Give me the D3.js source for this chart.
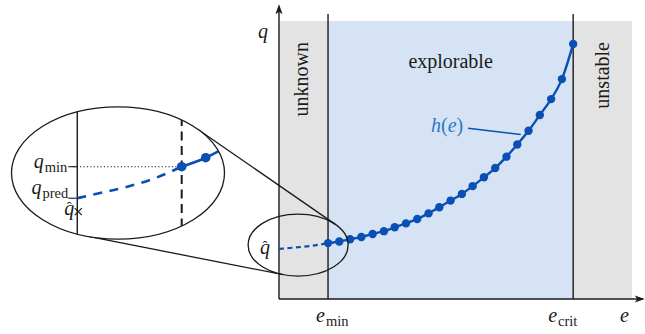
<!DOCTYPE html>
<html>
<head>
<meta charset="utf-8">
<script src="https://cdn.jsdelivr.net/npm/d3@7/dist/d3.min.js"></script>
<style>
  html, body { margin: 0; padding: 0; background: #fff; }
  svg { display: block; }
  text { font-family: "Liberation Serif", "DejaVu Serif", serif; fill: #1a1a1a; }
  .math { font-style: italic; }
</style>
</head>
<body>
<svg id="chart" width="645" height="334"></svg>
<script>
// ---- data ----
const E_MIN = 1;
const E_CRIT = 6;
const E_MAX = 7.2;      // end of the shaded band
const Q_MAX = 10;       // top of the shaded band

// sampled points of h(e) across the explorable range
const eSamples = [1.00, 1.23, 1.45, 1.68, 1.91, 2.14, 2.36, 2.59, 2.82, 3.05, 3.27, 3.50,
                  3.73, 3.95, 4.18, 4.41, 4.64, 4.86, 5.09, 5.32, 5.55, 5.77, 6.00];
const hValues  = [2.01, 2.07, 2.15, 2.23, 2.34, 2.44, 2.58, 2.72, 2.88, 3.08, 3.30, 3.54,
                  3.78, 4.06, 4.38, 4.71, 5.12, 5.56, 6.05, 6.62, 7.19, 7.91, 9.17];

// extrapolation of h below e_min (dashed)
const extrapE = [0.00, 0.22, 0.47, 0.73, 1.00];
const extrapQ = [1.80, 1.835, 1.875, 1.93, 2.01];

const qHat  = 1.71;
const qPred = extrapQ[0];
const qMin  = hValues[0];

const regionNames = ["unknown", "explorable", "unstable"];

// ---- layout ----
const svg = d3.select("#chart");
const BLUE = "#0a50b4";
const INK = "#1a1a1a";
const FS = 20;     // body font size
const SUB = 14.5;  // subscript size

const x = d3.scaleLinear().domain([0, E_MAX]).range([279, 632]);
const y = d3.scaleLinear().domain([0, Q_MAX]).range([299, 21]);

// regions
svg.append("rect")
  .attr("x", x(0)).attr("y", y(Q_MAX))
  .attr("width", x(E_MAX) - x(0)).attr("height", y(0) - y(Q_MAX))
  .attr("fill", "#e3e3e3");
svg.append("rect")
  .attr("x", x(E_MIN)).attr("y", y(Q_MAX))
  .attr("width", x(E_CRIT) - x(E_MIN)).attr("height", y(0) - y(Q_MAX))
  .attr("fill", "#d5e3f4");

// boundary lines
[E_MIN, E_CRIT].forEach(e => {
  svg.append("line")
    .attr("x1", x(e)).attr("x2", x(e))
    .attr("y1", y(0)).attr("y2", y(10.25))
    .attr("stroke", INK).attr("stroke-width", 1.4);
});

// axes with arrow heads
const xEnd = x(7.46), yEnd = y(10.6);
svg.append("line").attr("x1", x(0)).attr("x2", xEnd - 2).attr("y1", y(0)).attr("y2", y(0))
  .attr("stroke", INK).attr("stroke-width", 1.4);
svg.append("line").attr("x1", x(0)).attr("x2", x(0)).attr("y1", y(0)).attr("y2", yEnd + 2)
  .attr("stroke", INK).attr("stroke-width", 1.4);
svg.append("path")
  .attr("d", `M${xEnd},${y(0)} L${xEnd - 10},${y(0) - 3.6} L${xEnd - 7.5},${y(0)} L${xEnd - 10},${y(0) + 3.6} Z`)
  .attr("fill", INK);
svg.append("path")
  .attr("d", `M${x(0)},${yEnd} L${x(0) - 3.6},${yEnd + 10} L${x(0)},${yEnd + 7.5} L${x(0) + 3.6},${yEnd + 10} Z`)
  .attr("fill", INK);

// region labels
svg.append("text").attr("x", (x(E_MIN) + x(E_CRIT)) / 2).attr("y", 68)
  .attr("text-anchor", "middle").attr("font-size", FS).text(regionNames[1]);
[[regionNames[0], (x(0) + x(E_MIN)) / 2 + 4], [regionNames[2], (x(E_CRIT) + x(E_MAX)) / 2 + 6.5]]
  .forEach(([t, px]) => {
    svg.append("text")
      .attr("transform", `translate(${px},42) rotate(-90)`)
      .attr("text-anchor", "end").attr("font-size", FS).text(t);
  });

// math label: italic symbol with an optional upright subscript
function subLabel(g, px, py, main, sub) {
  const t = g.append("text").attr("x", px).attr("y", py).attr("font-size", FS);
  t.append("tspan").attr("class", "math").text(main);
  if (sub) t.append("tspan").attr("font-size", SUB).attr("dy", 4).attr("dx", 1).text(sub);
  return t;
}
subLabel(svg, x(E_MIN) - 12, 322, "e", "min");
subLabel(svg, x(E_CRIT) - 25, 322, "e", "crit");
subLabel(svg, x(E_MAX) - 12, 322, "e", null);
subLabel(svg, x(0) - 21, 38, "q", null);

// q with a circumflex accent, kept in one text element
function qHatLabel(g, px, py) {
  const t = g.append("text").attr("x", px).attr("y", py).attr("font-size", FS);
  t.append("tspan").attr("class", "math").text("q");
  t.append("tspan").attr("font-size", 15).attr("dx", -7.5).attr("dy", -2.5).text("\u02C6");
  return t;
}

// ---- main curve ----
const pts = eSamples.map((e, i) => [e, hValues[i]]);
const line = d3.line().x(d => x(d[0])).y(d => y(d[1])).curve(d3.curveMonotoneX);

svg.append("path")
  .datum(extrapE.map((e, i) => [e, extrapQ[i]]))
  .attr("d", line).attr("fill", "none")
  .attr("stroke", BLUE).attr("stroke-width", 2.2).attr("stroke-dasharray", "5,3.5");
svg.append("path").datum(pts).attr("d", line).attr("fill", "none")
  .attr("stroke", BLUE).attr("stroke-width", 2.4);
svg.selectAll("circle.pt").data(pts).join("circle").attr("class", "pt")
  .attr("cx", d => x(d[0])).attr("cy", d => y(d[1])).attr("r", 4.2).attr("fill", BLUE);

// h(e) label with leader
const lead = { e: 4.93, q: 5.92 };
svg.append("line")
  .attr("x1", 468).attr("y1", 128.3).attr("x2", x(lead.e)).attr("y2", y(lead.q))
  .attr("stroke", BLUE).attr("stroke-width", 1.5);
const hl = svg.append("text").attr("x", 431).attr("y", 132).attr("font-size", FS)
  .style("fill", "#2a78c8");
hl.append("tspan").attr("class", "math").text("h");
hl.append("tspan").text("(");
hl.append("tspan").attr("class", "math").text("e");
hl.append("tspan").text(")");

qHatLabel(svg, x(0) - 19, y(qHat) + 2.5);

// ---- magnifier ----
const small = { cx: x(0.39), cy: y(1.94), rx: 50, ry: 31 };
const mag = 2.13;
const large = { cx: 118, cy: 173, rx: small.rx * mag, ry: small.ry * mag };

// outer common tangents (ellipses share an aspect ratio, so work in circle space)
const k = small.rx / small.ry;
const c1 = [small.cx, small.cy * k], r1 = small.rx;
const c2 = [large.cx, large.cy * k], r2 = large.rx;
const dx = c2[0] - c1[0], dy = c2[1] - c1[1], D = Math.hypot(dx, dy);
const base = Math.atan2(dy, dx), alpha = Math.acos((r2 - r1) / D);
[base + alpha, base - alpha].forEach(a => {
  const n = [Math.cos(a), Math.sin(a)];
  const p1 = [c1[0] - r1 * n[0], (c1[1] - r1 * n[1]) / k];
  const p2 = [c2[0] - r2 * n[0], (c2[1] - r2 * n[1]) / k];
  svg.append("line").attr("x1", p1[0]).attr("y1", p1[1]).attr("x2", p2[0]).attr("y2", p2[1])
    .attr("stroke", INK).attr("stroke-width", 1.3);
});

svg.append("ellipse").attr("cx", small.cx).attr("cy", small.cy)
  .attr("rx", small.rx).attr("ry", small.ry)
  .attr("fill", "none").attr("stroke", INK).attr("stroke-width", 1.3);

// inset scales: horizontal follows the magnifier, vertical is stretched
const xIn = e => large.cx + (x(e) - small.cx) * mag;
const yIn = d3.scaleLinear().domain([qMin - 0.2, qMin]).range([196.7, 166.7]);

svg.append("ellipse").attr("cx", large.cx).attr("cy", large.cy)
  .attr("rx", large.rx).attr("ry", large.ry).attr("fill", "#fff");

svg.append("clipPath").attr("id", "lens").append("ellipse")
  .attr("cx", large.cx).attr("cy", large.cy).attr("rx", large.rx).attr("ry", large.ry);
const inset = svg.append("g").attr("clip-path", "url(#lens)");

inset.append("line").attr("x1", xIn(0)).attr("x2", xIn(0))
  .attr("y1", large.cy - large.ry).attr("y2", large.cy + large.ry)
  .attr("stroke", INK).attr("stroke-width", 1.4);
inset.append("line").attr("x1", xIn(E_MIN)).attr("x2", xIn(E_MIN))
  .attr("y1", large.cy - large.ry + 10).attr("y2", large.cy + large.ry - 10)
  .attr("stroke", INK).attr("stroke-width", 2).attr("stroke-dasharray", "9,5.5");

// q_min guide
inset.append("line").attr("x1", xIn(0) - 4).attr("x2", xIn(E_MIN))
  .attr("y1", yIn(qMin)).attr("y2", yIn(qMin))
  .attr("stroke", INK).attr("stroke-width", 1.1).attr("stroke-dasharray", "1.2,2.2");

const lineIn = d3.line().x(d => xIn(d[0])).y(d => yIn(d[1])).curve(d3.curveMonotoneX);
inset.append("path").datum(extrapE.map((e, i) => [e, extrapQ[i]]))
  .attr("d", lineIn).attr("fill", "none")
  .attr("stroke", BLUE).attr("stroke-width", 2.6).attr("stroke-dasharray", "9,7.5");
inset.append("path").datum(pts.slice(0, 4)).attr("d", lineIn).attr("fill", "none")
  .attr("stroke", BLUE).attr("stroke-width", 2.6);
inset.selectAll("circle").data(pts.slice(0, 4)).join("circle")
  .attr("cx", d => xIn(d[0])).attr("cy", d => yIn(d[1])).attr("r", 4.8).attr("fill", BLUE);

svg.append("ellipse").attr("cx", large.cx).attr("cy", large.cy)
  .attr("rx", large.rx).attr("ry", large.ry)
  .attr("fill", "none").attr("stroke", INK).attr("stroke-width", 1.3);

// inset ticks and labels
[qMin, qPred].forEach(q => {
  svg.append("line").attr("x1", xIn(0) - 9).attr("x2", xIn(0))
    .attr("y1", yIn(q)).attr("y2", yIn(q)).attr("stroke", INK).attr("stroke-width", 1.1);
});
subLabel(svg, xIn(0) - 10, yIn(qMin) + 1, "q", "min").attr("text-anchor", "end");
subLabel(svg, xIn(0) - 9, yIn(qPred) - 4, "q", "pred").attr("text-anchor", "end");

// q-hat marker
const hx = xIn(0) + 1, hy = yIn(qHat);
svg.append("path")
  .attr("d", `M${hx - 3.5},${hy - 3.5} L${hx + 3.5},${hy + 3.5} M${hx - 3.5},${hy + 3.5} L${hx + 3.5},${hy - 3.5}`)
  .attr("stroke", INK).attr("stroke-width", 1.2);
qHatLabel(svg, hx - 14, hy + 3);
</script>
</body>
</html>
